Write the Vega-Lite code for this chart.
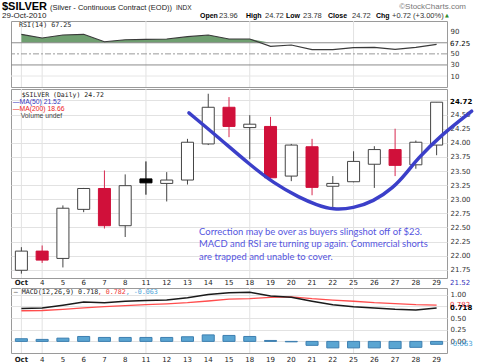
{
  "$schema": "https://vega.github.io/schema/vega-lite/v6.json",
  "padding": {"left": 2, "top": 0, "right": 0, "bottom": 0},
  "spacing": 0,
  "bounds": "full",
  "resolve": {"scale": {"x": "independent", "y": "independent"}},
  "config": {
    "view": {"stroke": "#9a9a9a"},
    "axis": {"labelFont": "DejaVu Sans", "labelFontSize": 7, "labelColor": "#333333", "ticks": false, "domain": false, "grid": false, "labelPadding": 3, "labelOverlap": false, "labelBound": false, "labelFlush": false, "tickCount": 100},
    "axisX": {"labelAngle": 0, "labelPadding": 2}
  },
  "datasets": {
    "ohlc": [
      {"date": "2010-10-01", "open": 21.74, "high": 22.15, "low": 21.68, "close": 22.08, "rsi": 85.3, "macd": 0.71, "signal": 0.66, "hist": 0.057},
      {"date": "2010-10-04", "open": 22.08, "high": 22.18, "low": 21.87, "close": 21.92, "rsi": 78.6, "macd": 0.72, "signal": 0.665, "hist": 0.043},
      {"date": "2010-10-05", "open": 21.95, "high": 22.89, "low": 21.79, "close": 22.84, "rsi": 84.0, "macd": 0.78, "signal": 0.69, "hist": 0.07},
      {"date": "2010-10-06", "open": 22.82, "high": 23.2, "low": 22.77, "close": 23.19, "rsi": 85.3, "macd": 0.85, "signal": 0.72, "hist": 0.106},
      {"date": "2010-10-07", "open": 23.19, "high": 23.51, "low": 22.48, "close": 22.53, "rsi": 71.9, "macd": 0.83, "signal": 0.75, "hist": 0.085},
      {"date": "2010-10-08", "open": 22.53, "high": 23.44, "low": 22.33, "close": 23.24, "rsi": 75.5, "macd": 0.865, "signal": 0.77, "hist": 0.085},
      {"date": "2010-10-11", "open": 23.36, "high": 23.67, "low": 23.08, "close": 23.29, "rsi": 76.3, "macd": 0.88, "signal": 0.79, "hist": 0.085},
      {"date": "2010-10-12", "open": 23.28, "high": 23.48, "low": 22.96, "close": 23.34, "rsi": 76.8, "macd": 0.89, "signal": 0.81, "hist": 0.085},
      {"date": "2010-10-13", "open": 23.34, "high": 24.07, "low": 23.26, "close": 24.01, "rsi": 81.0, "macd": 0.94, "signal": 0.835, "hist": 0.1},
      {"date": "2010-10-14", "open": 23.98, "high": 24.87, "low": 23.96, "close": 24.63, "rsi": 84.0, "macd": 1.01, "signal": 0.87, "hist": 0.14},
      {"date": "2010-10-15", "open": 24.63, "high": 24.81, "low": 24.1, "close": 24.29, "rsi": 76.8, "macd": 1.05, "signal": 0.91, "hist": 0.128},
      {"date": "2010-10-18", "open": 24.27, "high": 24.49, "low": 23.71, "close": 24.33, "rsi": 76.8, "macd": 1.06, "signal": 0.92, "hist": 0.106},
      {"date": "2010-10-19", "open": 24.29, "high": 24.46, "low": 23.37, "close": 23.38, "rsi": 63.6, "macd": 0.98, "signal": 0.95, "hist": 0.02},
      {"date": "2010-10-20", "open": 23.41, "high": 23.98, "low": 23.32, "close": 23.96, "rsi": 66.0, "macd": 0.95, "signal": 0.96, "hist": -0.01},
      {"date": "2010-10-21", "open": 23.93, "high": 24.07, "low": 23.07, "close": 23.21, "rsi": 57.5, "macd": 0.865, "signal": 0.92, "hist": -0.085},
      {"date": "2010-10-22", "open": 23.23, "high": 23.41, "low": 22.84, "close": 23.28, "rsi": 57.5, "macd": 0.79, "signal": 0.89, "hist": -0.14},
      {"date": "2010-10-25", "open": 23.31, "high": 23.85, "low": 23.3, "close": 23.67, "rsi": 61.1, "macd": 0.745, "signal": 0.865, "hist": -0.14},
      {"date": "2010-10-26", "open": 23.62, "high": 23.94, "low": 23.2, "close": 23.88, "rsi": 61.8, "macd": 0.72, "signal": 0.835, "hist": -0.14},
      {"date": "2010-10-27", "open": 23.88, "high": 24.25, "low": 23.41, "close": 23.6, "rsi": 58.2, "macd": 0.69, "signal": 0.815, "hist": -0.155},
      {"date": "2010-10-28", "open": 23.61, "high": 24.04, "low": 23.54, "close": 24.01, "rsi": 61.8, "macd": 0.675, "signal": 0.79, "hist": -0.128},
      {"date": "2010-10-29", "open": 23.96, "high": 24.72, "low": 23.78, "close": 24.72, "rsi": 67.25, "macd": 0.718, "signal": 0.782, "hist": -0.063}
    ],
    "curve": [
      {"i": 8.57, "p": 24.53}, {"i": 9.91, "p": 24.12}, {"i": 11.51, "p": 23.61}, {"i": 12.63, "p": 23.29},
      {"i": 13.92, "p": 23.02}, {"i": 14.72, "p": 22.9}, {"i": 15.52, "p": 22.81}, {"i": 16.49, "p": 22.84},
      {"i": 17.45, "p": 22.96}, {"i": 18.41, "p": 23.2}, {"i": 19.06, "p": 23.47}, {"i": 19.54, "p": 23.7},
      {"i": 20.66, "p": 24.12}, {"i": 22.19, "p": 24.56}
    ]
  },
  "vconcat": [
    {
      "width": 436, "height": 20,
      "view": {"stroke": null},
      "data": {"values": [{}]},
      "layer": [
        {"mark": {"type": "text", "text": "$SILVER", "font": "Liberation Sans", "fontSize": 11, "fontWeight": "bold", "align": "left", "baseline": "alphabetic", "color": "#000000"},
         "encoding": {"x": {"datum": -9, "type": "quantitative", "scale": {"domain": [0, 436], "nice": false, "zero": false}, "axis": null}, "y": {"datum": 10, "type": "quantitative", "scale": {"domain": [0, 20], "reverse": true, "nice": false, "zero": false}, "axis": null}}},
        {"mark": {"type": "text", "text": "(Silver - Continuous Contract (EOD))", "font": "Liberation Sans", "fontSize": 7.5, "align": "left", "baseline": "alphabetic", "color": "#222222"},
         "encoding": {"x": {"datum": 39, "type": "quantitative", "scale": {"domain": [0, 436], "nice": false, "zero": false}, "axis": null}, "y": {"datum": 10, "type": "quantitative", "scale": {"domain": [0, 20], "reverse": true, "nice": false, "zero": false}, "axis": null}}},
        {"mark": {"type": "text", "text": "INDX", "font": "Liberation Sans", "fontSize": 6.5, "align": "left", "baseline": "alphabetic", "color": "#222222"},
         "encoding": {"x": {"datum": 165, "type": "quantitative", "scale": {"domain": [0, 436], "nice": false, "zero": false}, "axis": null}, "y": {"datum": 10, "type": "quantitative", "scale": {"domain": [0, 20], "reverse": true, "nice": false, "zero": false}, "axis": null}}},
        {"mark": {"type": "text", "text": "29-Oct-2010", "font": "Liberation Sans", "fontSize": 8, "align": "left", "baseline": "alphabetic", "color": "#222222"},
         "encoding": {"x": {"datum": -9, "type": "quantitative", "scale": {"domain": [0, 436], "nice": false, "zero": false}, "axis": null}, "y": {"datum": 17.5, "type": "quantitative", "scale": {"domain": [0, 20], "reverse": true, "nice": false, "zero": false}, "axis": null}}},
        {"mark": {"type": "text", "text": "©StockCharts.com", "font": "Liberation Sans", "fontSize": 8, "align": "right", "baseline": "alphabetic", "color": "#777777"},
         "encoding": {"x": {"datum": 455, "type": "quantitative", "scale": {"domain": [0, 436], "nice": false, "zero": false}, "axis": null}, "y": {"datum": 9, "type": "quantitative", "scale": {"domain": [0, 20], "reverse": true, "nice": false, "zero": false}, "axis": null}}},
        {"mark": {"type": "text", "text": "Open", "font": "Liberation Sans", "fontSize": 7, "fontWeight": "bold", "align": "left", "baseline": "alphabetic", "color": "#000000"},
         "encoding": {"x": {"datum": 189, "type": "quantitative", "scale": {"domain": [0, 436], "nice": false, "zero": false}, "axis": null}, "y": {"datum": 17.5, "type": "quantitative", "scale": {"domain": [0, 20], "reverse": true, "nice": false, "zero": false}, "axis": null}}},
        {"mark": {"type": "text", "text": "23.96", "font": "Liberation Sans", "fontSize": 7.5, "align": "left", "baseline": "alphabetic", "color": "#333333"},
         "encoding": {"x": {"datum": 208, "type": "quantitative", "scale": {"domain": [0, 436], "nice": false, "zero": false}, "axis": null}, "y": {"datum": 17.5, "type": "quantitative", "scale": {"domain": [0, 20], "reverse": true, "nice": false, "zero": false}, "axis": null}}},
        {"mark": {"type": "text", "text": "High", "font": "Liberation Sans", "fontSize": 7, "fontWeight": "bold", "align": "left", "baseline": "alphabetic", "color": "#000000"},
         "encoding": {"x": {"datum": 235, "type": "quantitative", "scale": {"domain": [0, 436], "nice": false, "zero": false}, "axis": null}, "y": {"datum": 17.5, "type": "quantitative", "scale": {"domain": [0, 20], "reverse": true, "nice": false, "zero": false}, "axis": null}}},
        {"mark": {"type": "text", "text": "24.72", "font": "Liberation Sans", "fontSize": 7.5, "align": "left", "baseline": "alphabetic", "color": "#333333"},
         "encoding": {"x": {"datum": 254, "type": "quantitative", "scale": {"domain": [0, 436], "nice": false, "zero": false}, "axis": null}, "y": {"datum": 17.5, "type": "quantitative", "scale": {"domain": [0, 20], "reverse": true, "nice": false, "zero": false}, "axis": null}}},
        {"mark": {"type": "text", "text": "Low", "font": "Liberation Sans", "fontSize": 7, "fontWeight": "bold", "align": "left", "baseline": "alphabetic", "color": "#000000"},
         "encoding": {"x": {"datum": 275, "type": "quantitative", "scale": {"domain": [0, 436], "nice": false, "zero": false}, "axis": null}, "y": {"datum": 17.5, "type": "quantitative", "scale": {"domain": [0, 20], "reverse": true, "nice": false, "zero": false}, "axis": null}}},
        {"mark": {"type": "text", "text": "23.78", "font": "Liberation Sans", "fontSize": 7.5, "align": "left", "baseline": "alphabetic", "color": "#333333"},
         "encoding": {"x": {"datum": 292, "type": "quantitative", "scale": {"domain": [0, 436], "nice": false, "zero": false}, "axis": null}, "y": {"datum": 17.5, "type": "quantitative", "scale": {"domain": [0, 20], "reverse": true, "nice": false, "zero": false}, "axis": null}}},
        {"mark": {"type": "text", "text": "Close", "font": "Liberation Sans", "fontSize": 7, "fontWeight": "bold", "align": "left", "baseline": "alphabetic", "color": "#000000"},
         "encoding": {"x": {"datum": 317, "type": "quantitative", "scale": {"domain": [0, 436], "nice": false, "zero": false}, "axis": null}, "y": {"datum": 17.5, "type": "quantitative", "scale": {"domain": [0, 20], "reverse": true, "nice": false, "zero": false}, "axis": null}}},
        {"mark": {"type": "text", "text": "24.72", "font": "Liberation Sans", "fontSize": 7.5, "align": "left", "baseline": "alphabetic", "color": "#333333"},
         "encoding": {"x": {"datum": 341, "type": "quantitative", "scale": {"domain": [0, 436], "nice": false, "zero": false}, "axis": null}, "y": {"datum": 17.5, "type": "quantitative", "scale": {"domain": [0, 20], "reverse": true, "nice": false, "zero": false}, "axis": null}}},
        {"mark": {"type": "text", "text": "Chg", "font": "Liberation Sans", "fontSize": 7, "fontWeight": "bold", "align": "left", "baseline": "alphabetic", "color": "#000000"},
         "encoding": {"x": {"datum": 365, "type": "quantitative", "scale": {"domain": [0, 436], "nice": false, "zero": false}, "axis": null}, "y": {"datum": 17.5, "type": "quantitative", "scale": {"domain": [0, 20], "reverse": true, "nice": false, "zero": false}, "axis": null}}},
        {"mark": {"type": "text", "text": "+0.72 (+3.00%)", "font": "Liberation Sans", "fontSize": 7.5, "align": "left", "baseline": "alphabetic", "color": "#333333"},
         "encoding": {"x": {"datum": 381, "type": "quantitative", "scale": {"domain": [0, 436], "nice": false, "zero": false}, "axis": null}, "y": {"datum": 17.5, "type": "quantitative", "scale": {"domain": [0, 20], "reverse": true, "nice": false, "zero": false}, "axis": null}}},
        {"mark": {"type": "text", "text": "▲", "font": "DejaVu Sans", "fontSize": 5, "align": "left", "baseline": "alphabetic", "color": "#2e8b2e"},
         "encoding": {"x": {"datum": 434, "type": "quantitative", "scale": {"domain": [0, 436], "nice": false, "zero": false}, "axis": null}, "y": {"datum": 16.5, "type": "quantitative", "scale": {"domain": [0, 20], "reverse": true, "nice": false, "zero": false}, "axis": null}}}
      ]
    },
    {
      "width": 436, "height": 66,
      "data": {"name": "ohlc"},
      "transform": [{"calculate": "max(datum.rsi, 70)", "as": "rsiTop"}],
      "layer": [
        {"transform": [{"filter": "indexof(['2010-10-01','2010-10-04','2010-10-11','2010-10-18','2010-10-25'], datum.date) >= 0"}],
         "mark": {"type": "rule", "color": "#e2e2e2", "strokeWidth": 1},
         "encoding": {"x": {"field": "date", "type": "ordinal", "bandPosition": 0.5, "scale": {"type": "band", "paddingInner": 0, "paddingOuter": 0}, "axis": null}}},
        {"mark": {"type": "area", "color": "#6f9f70", "opacity": 1},
         "encoding": {"x": {"field": "date", "type": "ordinal", "bandPosition": 0.5, "scale": {"type": "band", "paddingInner": 0, "paddingOuter": 0}, "axis": null},
                      "y": {"field": "rsiTop", "type": "quantitative", "scale": {"domain": [-9.8, 109.3], "nice": false, "zero": false}},
                      "y2": {"datum": 70}}},
        {"data": {"values": [{}]}, "mark": {"type": "rule", "color": "#8c8c8c", "strokeWidth": 1},
         "encoding": {"y": {"datum": 70, "type": "quantitative", "scale": {"domain": [-9.8, 109.3], "nice": false, "zero": false}}}},
        {"data": {"values": [{}]}, "mark": {"type": "rule", "color": "#8c8c8c", "strokeWidth": 1},
         "encoding": {"y": {"datum": 30, "type": "quantitative", "scale": {"domain": [-9.8, 109.3], "nice": false, "zero": false}}}},
        {"data": {"values": [{}]}, "mark": {"type": "rule", "color": "#9a9a9a", "strokeWidth": 1, "strokeDash": [6, 2, 2, 2]},
         "encoding": {"y": {"datum": 50, "type": "quantitative", "scale": {"domain": [-9.8, 109.3], "nice": false, "zero": false}}}},
        {"data": {"values": [{}]}, "mark": {"type": "rule", "color": "#e6e6e6", "strokeWidth": 1},
         "encoding": {"y": {"datum": 10, "type": "quantitative", "scale": {"domain": [-9.8, 109.3], "nice": false, "zero": false}}}},
        {"mark": {"type": "line", "color": "#3a3a3a", "strokeWidth": 1.2},
         "encoding": {"x": {"field": "date", "type": "ordinal", "bandPosition": 0.5, "scale": {"type": "band", "paddingInner": 0, "paddingOuter": 0}, "axis": null},
                      "y": {"field": "rsi", "type": "quantitative", "scale": {"domain": [-9.8, 109.3], "nice": false, "zero": false},
                            "axis": {"orient": "right", "title": null, "values": [10, 30, 50, 90], "format": "d", "tickCount": 100, "labelOverlap": false}}}},
        {"data": {"values": [{}]}, "mark": {"type": "text", "text": "RSI(14) 67.25", "font": "DejaVu Sans Mono", "fontSize": 6.7, "align": "left", "baseline": "middle", "dx": -2.4, "color": "#222222"},
         "encoding": {"x": {"datum": "2010-10-01", "type": "ordinal", "bandPosition": 0.5, "scale": {"type": "band", "paddingInner": 0, "paddingOuter": 0}, "axis": null},
                      "y": {"datum": 101.5, "type": "quantitative", "scale": {"domain": [-9.8, 109.3], "nice": false, "zero": false}}}},
        {"data": {"values": [{}]}, "mark": {"type": "text", "text": "67.25", "font": "DejaVu Sans", "fontSize": 7, "align": "left", "baseline": "middle", "dx": 13.5, "color": "#000000"},
         "encoding": {"x": {"datum": "2010-10-29", "type": "ordinal", "bandPosition": 0.5, "scale": {"type": "band", "paddingInner": 0, "paddingOuter": 0}, "axis": null},
                      "y": {"datum": 67.25, "type": "quantitative", "scale": {"domain": [-9.8, 109.3], "nice": false, "zero": false}}}}
      ]
    },
    {
      "width": 436, "height": 189,
      "resolve": {"scale": {"x": "independent"}},
      "layer": [
        {
          "data": {"name": "ohlc"},
          "transform": [
            {"window": [{"op": "lag", "field": "close", "as": "pc"}], "sort": [{"field": "date"}]},
            {"calculate": "datum.close >= datum.open ? 'up' : (datum.pc != null && datum.close > datum.pc ? 'downblack' : 'down')", "as": "kind"}
          ],
          "layer": [
            {"transform": [{"filter": "indexof(['2010-10-01','2010-10-04','2010-10-11','2010-10-18','2010-10-25'], datum.date) >= 0"}],
             "mark": {"type": "rule", "color": "#e2e2e2", "strokeWidth": 1},
             "encoding": {"x": {"field": "date", "type": "ordinal", "bandPosition": 0.5, "scale": {"type": "band", "paddingInner": 0, "paddingOuter": 0}}}},
            {"data": {"values": [{}]}, "mark": {"type": "rule", "color": "#e2e2e2", "strokeWidth": 1},
             "encoding": {"y": {"datum": 24.75, "type": "quantitative", "scale": {"domain": [21.603, 24.954], "nice": false, "zero": false}}}},
            {"mark": {"type": "rule", "strokeWidth": 1},
             "encoding": {"x": {"field": "date", "type": "ordinal", "bandPosition": 0.5, "scale": {"type": "band", "paddingInner": 0, "paddingOuter": 0}},
                          "y": {"field": "low", "type": "quantitative", "scale": {"domain": [21.603, 24.954], "nice": false, "zero": false}},
                          "y2": {"field": "high"},
                          "color": {"field": "kind", "type": "nominal", "scale": {"domain": ["up", "down", "downblack"], "range": ["#444444", "#d8284f", "#000000"]}, "legend": null}}},
            {"mark": {"type": "bar", "width": {"band": 0.58}, "strokeWidth": 1},
             "encoding": {"x": {"field": "date", "type": "ordinal", "scale": {"type": "band", "paddingInner": 0, "paddingOuter": 0},
                                "axis": {"orient": "bottom", "title": null, "labelColor": "#222222", "labelAngle": 0, "labelPadding": 0,
                                         "labelExpr": "substring(datum.value, 8, 10) == '01' ? 'Oct' : '' + toNumber(substring(datum.value, 8, 10))",
                                         "labelFontWeight": {"condition": {"test": "substring(datum.value, 8, 10) == '01'", "value": "bold"}, "value": "normal"}}},
                          "y": {"field": "open", "type": "quantitative", "scale": {"domain": [21.603, 24.954], "nice": false, "zero": false},
                                "axis": {"orient": "right", "title": null, "grid": true, "gridColor": "#e2e2e2", "format": ".2f", "tickCount": 100, "labelOverlap": false,
                                         "values": [21.75, 22, 22.25, 22.5, 22.75, 23, 23.25, 23.5, 23.75, 24, 24.25, 24.5]}},
                          "y2": {"field": "close"},
                          "fill": {"field": "kind", "type": "nominal", "scale": {"domain": ["up", "down", "downblack"], "range": ["#ffffff", "#d0103a", "#000000"]}, "legend": null},
                          "stroke": {"field": "kind", "type": "nominal", "scale": {"domain": ["up", "down", "downblack"], "range": ["#444444", "#d0103a", "#000000"]}, "legend": null}}},
            {"data": {"values": [{}]}, "mark": {"type": "text", "text": "$SILVER (Daily) 24.72", "font": "DejaVu Sans Mono", "fontSize": 6.5, "align": "left", "baseline": "middle", "dx": 0.3, "color": "#222222"},
             "encoding": {"x": {"datum": "2010-10-01", "type": "ordinal", "bandPosition": 0.5, "scale": {"type": "band", "paddingInner": 0, "paddingOuter": 0}},
                          "y": {"datum": 24.853, "type": "quantitative", "scale": {"domain": [21.603, 24.954], "nice": false, "zero": false}}}},
            {"data": {"values": [{}]}, "mark": {"type": "text", "text": "—MA(50) 21.52", "font": "Liberation Sans", "fontSize": 6.8, "align": "left", "baseline": "middle", "dx": -8.7, "color": "#3333bb"},
             "encoding": {"x": {"datum": "2010-10-01", "type": "ordinal", "bandPosition": 0.5, "scale": {"type": "band", "paddingInner": 0, "paddingOuter": 0}},
                          "y": {"datum": 24.726, "type": "quantitative", "scale": {"domain": [21.603, 24.954], "nice": false, "zero": false}}}},
            {"data": {"values": [{}]}, "mark": {"type": "text", "text": "—MA(200) 18.66", "font": "Liberation Sans", "fontSize": 6.8, "align": "left", "baseline": "middle", "dx": -8.7, "color": "#ee2222"},
             "encoding": {"x": {"datum": "2010-10-01", "type": "ordinal", "bandPosition": 0.5, "scale": {"type": "band", "paddingInner": 0, "paddingOuter": 0}},
                          "y": {"datum": 24.598, "type": "quantitative", "scale": {"domain": [21.603, 24.954], "nice": false, "zero": false}}}},
            {"data": {"values": [{}]}, "mark": {"type": "text", "text": "Volume undef", "font": "Liberation Sans", "fontSize": 6.8, "align": "left", "baseline": "middle", "dx": -0.7, "color": "#444444"},
             "encoding": {"x": {"datum": "2010-10-01", "type": "ordinal", "bandPosition": 0.5, "scale": {"type": "band", "paddingInner": 0, "paddingOuter": 0}},
                          "y": {"datum": 24.47, "type": "quantitative", "scale": {"domain": [21.603, 24.954], "nice": false, "zero": false}}}},
            {"data": {"values": [{}]}, "mark": {"type": "text", "text": "24.72", "font": "DejaVu Sans", "fontSize": 7, "fontWeight": "bold", "align": "left", "baseline": "middle", "dx": 13.5, "color": "#000000"},
             "encoding": {"x": {"datum": "2010-10-29", "type": "ordinal", "bandPosition": 0.5, "scale": {"type": "band", "paddingInner": 0, "paddingOuter": 0}},
                          "y": {"datum": 24.72, "type": "quantitative", "scale": {"domain": [21.603, 24.954], "nice": false, "zero": false}}}},
            {"data": {"values": [{}]}, "mark": {"type": "text", "text": "21.52", "font": "DejaVu Sans", "fontSize": 7, "align": "left", "baseline": "middle", "dx": 13.5, "dy": 5, "color": "#3333bb"},
             "encoding": {"x": {"datum": "2010-10-29", "type": "ordinal", "bandPosition": 0.5, "scale": {"type": "band", "paddingInner": 0, "paddingOuter": 0}},
                          "y": {"datum": 21.603, "type": "quantitative", "scale": {"domain": [21.603, 24.954], "nice": false, "zero": false}}}}
          ]
        },
        {
          "data": {"name": "curve"},
          "mark": {"type": "line", "color": "#3b3fc9", "strokeWidth": 3.5, "interpolate": "basis", "strokeCap": "round"},
          "encoding": {"x": {"field": "i", "type": "quantitative", "scale": {"domain": [0, 21], "nice": false, "zero": false}, "axis": null},
                       "y": {"field": "p", "type": "quantitative", "scale": {"domain": [21.603, 24.954], "nice": false, "zero": false}}}
        },
        {
          "data": {"values": [{}]},
          "mark": {"type": "text", "text": ["Correction may be over as buyers slingshot off of $23.", "MACD and RSI are turning up again.  Commercial shorts", "are trapped and unable to cover."], "font": "Lato", "fontSize": 9.45, "lineHeight": 12.3, "align": "left", "baseline": "middle", "color": "#5555e0"},
          "encoding": {"x": {"datum": 9.06, "type": "quantitative", "scale": {"domain": [0, 21], "nice": false, "zero": false}, "axis": null},
                       "y": {"datum": 22.42, "type": "quantitative", "scale": {"domain": [21.603, 24.954], "nice": false, "zero": false}}}
        }
      ]
    },
    {
      "width": 436, "height": 65,
      "data": {"name": "ohlc"},
      "layer": [
        {"transform": [{"filter": "indexof(['2010-10-01','2010-10-04','2010-10-11','2010-10-18','2010-10-25'], datum.date) >= 0"}],
         "mark": {"type": "rule", "color": "#e2e2e2", "strokeWidth": 1},
         "encoding": {"x": {"field": "date", "type": "ordinal", "bandPosition": 0.5, "scale": {"type": "band", "paddingInner": 0, "paddingOuter": 0}}}},
        {"data": {"values": [{}]}, "mark": {"type": "rule", "color": "#e2e2e2", "strokeWidth": 1},
         "encoding": {"y": {"datum": 0.75, "type": "quantitative", "scale": {"domain": [-0.25, 1.15], "nice": false, "zero": false}}}},
        {"mark": {"type": "bar", "width": {"band": 0.58}, "color": "#5aa5d2", "stroke": "#3d7fb0", "strokeWidth": 1},
         "encoding": {"x": {"field": "date", "type": "ordinal", "scale": {"type": "band", "paddingInner": 0, "paddingOuter": 0},
                            "axis": {"orient": "bottom", "title": null, "labelColor": "#222222", "labelAngle": 0, "labelPadding": 2,
                                     "labelExpr": "substring(datum.value, 8, 10) == '01' ? 'Oct' : '' + toNumber(substring(datum.value, 8, 10))",
                                     "labelFontWeight": {"condition": {"test": "substring(datum.value, 8, 10) == '01'", "value": "bold"}, "value": "normal"}}},
                      "y": {"field": "hist", "type": "quantitative", "scale": {"domain": [-0.25, 1.15], "nice": false, "zero": false},
                            "axis": {"orient": "right", "title": null, "grid": true, "gridColor": "#e2e2e2", "format": ".2f", "tickCount": 100, "labelOverlap": false,
                                     "values": [0, 0.25, 0.5, 1]}},
                      "y2": {"datum": 0}}},
        {"mark": {"type": "line", "color": "#ff4d4d", "strokeWidth": 1.3},
         "encoding": {"x": {"field": "date", "type": "ordinal", "bandPosition": 0.5, "scale": {"type": "band", "paddingInner": 0, "paddingOuter": 0}},
                      "y": {"field": "signal", "type": "quantitative", "scale": {"domain": [-0.25, 1.15], "nice": false, "zero": false}}}},
        {"mark": {"type": "line", "color": "#1a1a1a", "strokeWidth": 1.5},
         "encoding": {"x": {"field": "date", "type": "ordinal", "bandPosition": 0.5, "scale": {"type": "band", "paddingInner": 0, "paddingOuter": 0}},
                      "y": {"field": "macd", "type": "quantitative", "scale": {"domain": [-0.25, 1.15], "nice": false, "zero": false}}}},
        {"data": {"values": [{}]}, "mark": {"type": "text", "text": "— MACD(12,26,9) 0.718", "font": "DejaVu Sans Mono", "fontSize": 6.7, "align": "left", "baseline": "middle", "dx": -7.7, "color": "#222222"},
         "encoding": {"x": {"datum": "2010-10-01", "type": "ordinal", "bandPosition": 0.5, "scale": {"type": "band", "paddingInner": 0, "paddingOuter": 0}},
                      "y": {"datum": 1.065, "type": "quantitative", "scale": {"domain": [-0.25, 1.15], "nice": false, "zero": false}}}},
        {"data": {"values": [{}]}, "mark": {"type": "text", "text": ", 0.782", "font": "DejaVu Sans Mono", "fontSize": 6.7, "align": "left", "baseline": "middle", "dx": 76.3, "color": "#ee3333"},
         "encoding": {"x": {"datum": "2010-10-01", "type": "ordinal", "bandPosition": 0.5, "scale": {"type": "band", "paddingInner": 0, "paddingOuter": 0}},
                      "y": {"datum": 1.065, "type": "quantitative", "scale": {"domain": [-0.25, 1.15], "nice": false, "zero": false}}}},
        {"data": {"values": [{}]}, "mark": {"type": "text", "text": ", -0.063", "font": "DejaVu Sans Mono", "fontSize": 6.7, "align": "left", "baseline": "middle", "dx": 104.3, "color": "#3fa0d8"},
         "encoding": {"x": {"datum": "2010-10-01", "type": "ordinal", "bandPosition": 0.5, "scale": {"type": "band", "paddingInner": 0, "paddingOuter": 0}},
                      "y": {"datum": 1.065, "type": "quantitative", "scale": {"domain": [-0.25, 1.15], "nice": false, "zero": false}}}},
        {"data": {"values": [{}]}, "mark": {"type": "text", "text": "0.782", "font": "DejaVu Sans", "fontSize": 7, "align": "left", "baseline": "middle", "dx": 13.5, "color": "#ee3333"},
         "encoding": {"x": {"datum": "2010-10-29", "type": "ordinal", "bandPosition": 0.5, "scale": {"type": "band", "paddingInner": 0, "paddingOuter": 0}},
                      "y": {"datum": 0.782, "type": "quantitative", "scale": {"domain": [-0.25, 1.15], "nice": false, "zero": false}}}},
        {"data": {"values": [{}]}, "mark": {"type": "text", "text": "0.718", "font": "DejaVu Sans", "fontSize": 7, "fontWeight": "bold", "align": "left", "baseline": "middle", "dx": 13.5, "color": "#000000"},
         "encoding": {"x": {"datum": "2010-10-29", "type": "ordinal", "bandPosition": 0.5, "scale": {"type": "band", "paddingInner": 0, "paddingOuter": 0}},
                      "y": {"datum": 0.718, "type": "quantitative", "scale": {"domain": [-0.25, 1.15], "nice": false, "zero": false}}}},
        {"data": {"values": [{}]}, "mark": {"type": "text", "text": "-0.063", "font": "DejaVu Sans", "fontSize": 7, "align": "left", "baseline": "middle", "dx": 13.5, "color": "#3fa0d8"},
         "encoding": {"x": {"datum": "2010-10-29", "type": "ordinal", "bandPosition": 0.5, "scale": {"type": "band", "paddingInner": 0, "paddingOuter": 0}},
                      "y": {"datum": -0.063, "type": "quantitative", "scale": {"domain": [-0.25, 1.15], "nice": false, "zero": false}}}}
      ]
    }
  ]
}
